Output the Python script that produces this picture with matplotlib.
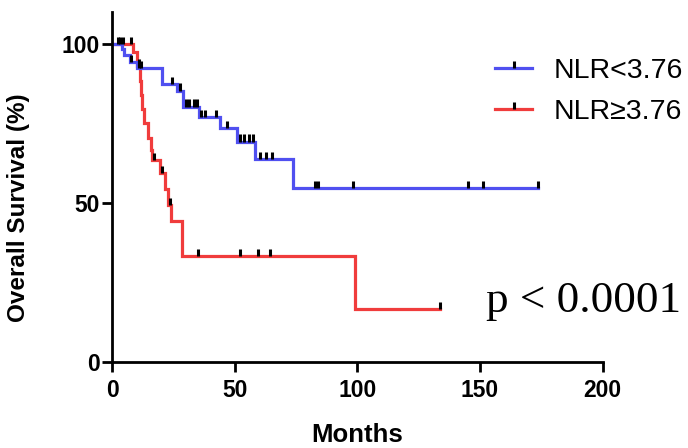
import numpy as np
import matplotlib
matplotlib.use('Agg')
import matplotlib.pyplot as plt
from matplotlib.lines import Line2D

# ---- data ----
blue_label = "NLR<3.76"
red_label = "NLR\u22653.76"

blue_event_t = [4.0, 5.0, 7.2, 10.3, 20.3, 26.6, 29.0, 35.5, 44.1, 50.9, 58.3, 73.7]
blue_event_s = [98.3, 96.5, 94.2, 92.4, 87.4, 85.3, 80.3, 77.1, 73.5, 69.3, 63.7, 54.6]
blue_censor = [2.4, 7.6, 11.0, 12.0, 24.3, 27.6, 30.0, 31.5, 33.3, 34.8, 36.4, 38.0,
               42.5, 46.8, 52.0, 54.0, 55.8, 57.6, 60.2, 62.9, 65.4, 82.6, 84.0,
               98.4, 145.2, 151.3, 173.8]

red_event_t = [8.6, 10.0, 11.4, 11.8, 12.4, 13.0, 14.8, 15.9, 16.3, 19.5, 21.6, 22.8,
               24.2, 28.5, 98.9]
red_event_s = [97.5, 93.0, 88.5, 84.0, 79.5, 75.0, 70.5, 66.8, 63.5, 59.3, 54.3, 49.4,
               44.4, 33.3, 16.7]
red_censor = [3.4, 4.4, 7.6, 11.0, 17.0, 20.2, 23.5, 34.9, 52.3, 59.4, 64.6, 133.8]

x_ticks = [0, 50, 100, 150, 200]
y_ticks = [0, 50, 100]
x_label = "Months"
y_label = "Overall Survival (%)"
p_text = "p < 0.0001"

BLUE = '#5050F0'
RED = '#F03C3C'
SANS = ['Liberation Sans', 'DejaVu Sans']


def km_steps(et, es, end):
    t = np.concatenate([[0.0], et, [end]])
    s = np.concatenate([[100.0], es, [es[-1]]])
    return t, s


def level_at(et, es, c):
    idx = np.searchsorted(np.asarray(et), np.asarray(c), side='right')
    levels = np.concatenate([[100.0], es])
    return levels[idx]


fig = plt.figure(figsize=(6.88, 4.48), dpi=100)
ax = fig.add_axes([112 / 688, 86 / 448, 490.7 / 688, 349.8 / 448])

for et, es, cen, col in [(red_event_t, red_event_s, red_censor, RED),
                         (blue_event_t, blue_event_s, blue_censor, BLUE)]:
    t, s = km_steps(et, es, max(cen))
    ax.step(t, s, where='post', color=col, lw=2.3, solid_joinstyle='miter', zorder=2)

for et, es, cen in [(red_event_t, red_event_s, red_censor),
                    (blue_event_t, blue_event_s, blue_censor)]:
    lv = level_at(et, es, cen)
    ax.vlines(cen, lv, lv + 2.3, color='k', lw=2.2, zorder=3)

ax.set_xlim(0, 200)
ax.set_ylim(0, 110)
ax.set_xticks(x_ticks)
ax.set_yticks(y_ticks)
for sp in ['top', 'right']:
    ax.spines[sp].set_visible(False)
for sp in ['left', 'bottom']:
    ax.spines[sp].set_linewidth(2.0)
ax.tick_params(axis='both', direction='out', length=7, width=2.0)
ax.tick_params(axis='x', pad=5)
ax.tick_params(axis='y', pad=1.5)
for lab in ax.get_xticklabels() + ax.get_yticklabels():
    lab.set_fontfamily(SANS)
    lab.set_fontweight('bold')
    lab.set_fontsize(16.5)

ax.set_ylabel(y_label, fontsize=17.5, fontweight='bold', family=SANS)
ax.yaxis.set_label_coords(-0.167, 0.44)
ax.set_xlabel(x_label, fontsize=18.5, fontweight='bold', family=SANS)
ax.xaxis.set_label_coords(0.5, -0.175)

bar = [(0, 0), (0, 1)]
handles = [Line2D([], [], color=BLUE, lw=2.3, marker=bar, markersize=10,
                  markeredgecolor='k', markeredgewidth=2.2),
           Line2D([], [], color=RED, lw=2.3, marker=bar, markersize=10,
                  markeredgecolor='k', markeredgewidth=2.2)]
leg = fig.legend(handles, [blue_label, red_label], loc='upper left',
                 bbox_to_anchor=(495 / 688, 1 - 58 / 448), bbox_transform=fig.transFigure,
                 frameon=False, borderpad=0, borderaxespad=0, handlelength=1.3,
                 handletextpad=0.75, labelspacing=0.52, numpoints=1,
                 prop={'family': SANS, 'size': 20.5})

fig.text(681 / 688, (448 - 312) / 448, p_text, ha='right', va='baseline',
         fontsize=32.5, family=['Liberation Serif', 'DejaVu Serif'])

fig.savefig('out.png', dpi=100)
